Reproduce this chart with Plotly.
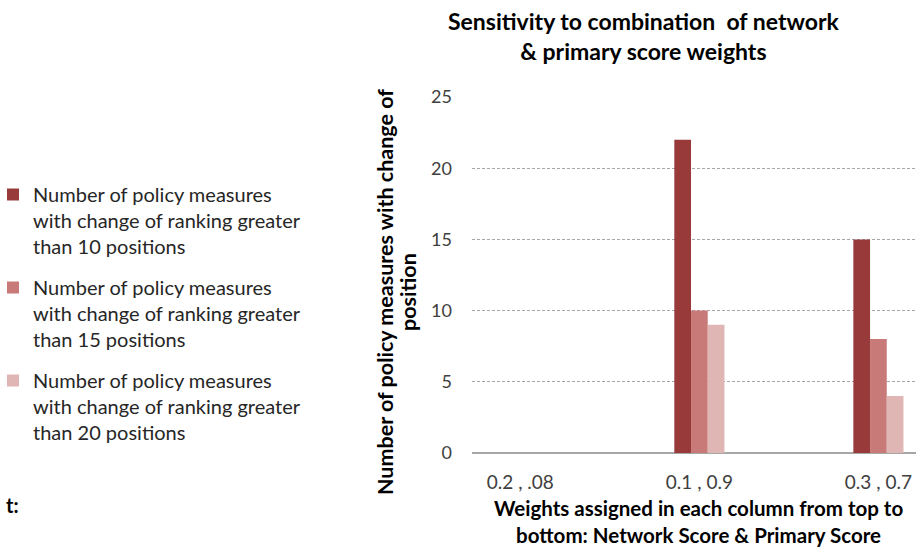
import plotly.graph_objects as go

# Weight combinations (network score, primary score)
categories = ["0.2 , .08", "0.1 , 0.9", "0.3 , 0.7"]

# Number of policy measures whose ranking moved by more than N positions
series_names = [
    "Number of policy measures<br>with change of ranking greater<br>than 10 positions",
    "Number of policy measures<br>with change of ranking greater<br>than 15 positions",
    "Number of policy measures<br>with change of ranking greater<br>than 20 positions",
]
over_10 = [0, 22, 15]
over_15 = [0, 10, 8]
over_20 = [0, 9, 4]
series_values = [over_10, over_15, over_20]
series_colors = ["#993A3A", "#C87A79", "#E0B6B4"]

y_ticks = [0, 5, 10, 15, 20, 25]

FONT = "Lato, 'Open Sans', Arial, sans-serif"

# plot area in pixels
L, T, W, H = 472, 97, 444, 356


def px(x):
    return (x - L) / W


def py(y):
    return (T + H - y) / H


fig = go.Figure()
for i, (name, vals, col) in enumerate(zip(series_names, series_values, series_colors)):
    fig.add_trace(go.Bar(
        x=categories, y=vals, name=name,
        marker=dict(color=col, line=dict(width=0)),
        legendgroup=f"g{i}",
    ))

fig.update_layout(
    width=916, height=550,
    margin=dict(l=L, r=916 - L - W, t=T, b=550 - T - H, autoexpand=False),
    paper_bgcolor="white", plot_bgcolor="white",
    font=dict(family=FONT, size=18, color="#404040"),
    barmode="group", bargap=0.72, bargroupgap=0.0,
    legend=dict(
        x=px(-7), xanchor="left", y=py(175), yanchor="top",
        font=dict(family=FONT, size=20, color="#262626"),
        valign="top", tracegroupgap=12, bgcolor="rgba(0,0,0,0)",
        itemclick=False, itemdoubleclick=False,
    ),
    showlegend=True,
)

fig.update_xaxes(
    range=[-0.27, 2.21], showgrid=False, showline=False, zeroline=False,
    ticks="", ticklabelstandoff=16,
    tickfont=dict(family=FONT, size=19, color="#404040"),
)
fig.update_yaxes(
    range=[0, 25], tickvals=y_ticks, showgrid=True,
    gridcolor="#A6A6A6", griddash="3px,2px", gridwidth=1,
    zeroline=True, zerolinecolor="#A6A6A6", zerolinewidth=2,
    showline=False, ticks="", ticklabelstandoff=19,
    tickfont=dict(family=FONT, size=18, color="#404040"),
)

# Chart title
fig.add_annotation(
    text="<b>Sensitivity to combination  of network<br>& primary score weights</b>",
    xref="paper", yref="paper", x=px(644), y=py(36),
    showarrow=False, xanchor="center", yanchor="middle",
    font=dict(family=FONT, size=23, color="#000000"),
)

# Y axis title, two rotated lines
y_title_lines = [("Number of policy measures with change of", 385),
                 ("position", 408)]
for line, xpos in y_title_lines:
    fig.add_annotation(
        text=f"<b>{line}</b>",
        xref="paper", yref="paper", x=px(xpos), y=py(292),
        textangle=-90, showarrow=False, xanchor="center", yanchor="middle",
        font=dict(family=FONT, size=21.5, color="#000000"),
    )

# X axis title
fig.add_annotation(
    text="<b>Weights assigned in each column from top to<br>bottom: Network Score & Primary Score</b>",
    xref="paper", yref="paper", x=px(698), y=py(521),
    showarrow=False, xanchor="center", yanchor="middle",
    font=dict(family=FONT, size=20.5, color="#000000"),
)
fig.add_annotation(
    text="<b>t:</b>", xref="paper", yref="paper",
    x=px(4), y=py(505), xanchor="left", yanchor="middle",
    showarrow=False, font=dict(family=FONT, size=20, color="#000000"),
)

fig.write_html("out.html")
